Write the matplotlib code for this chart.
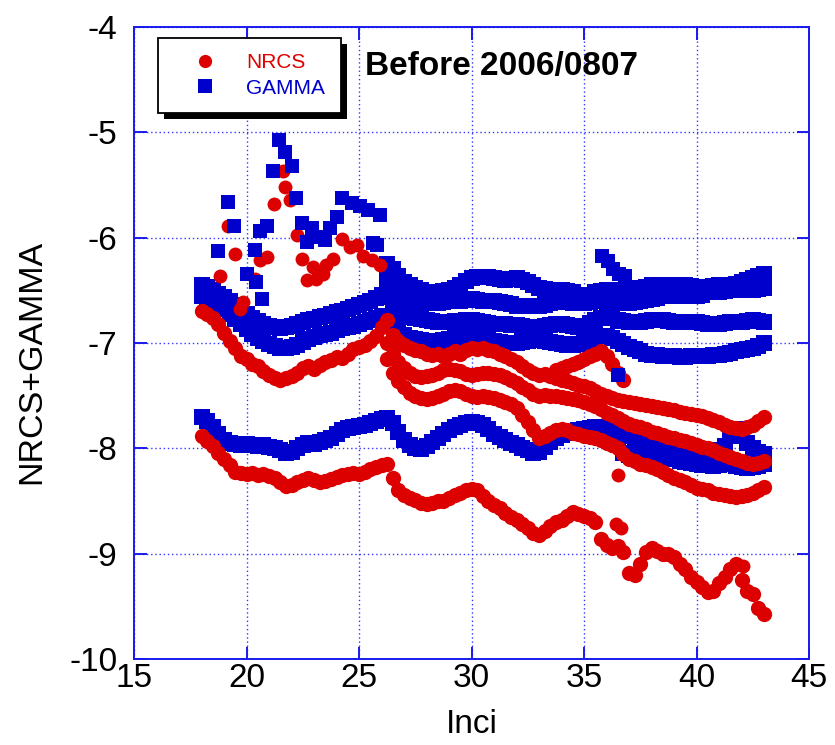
import matplotlib.pyplot as plt
from matplotlib.lines import Line2D
from matplotlib.patches import Rectangle

plt.rcParams['font.family'] = ['Liberation Sans', 'DejaVu Sans']
plt.rcParams['axes.unicode_minus'] = False

RED = '#dd0000'
BLUE = '#0000cc'
FRAME = '#1a1aee'

# incidence angle samples along the swath (deg)
inci = [
    18.0, 18.25, 18.5, 18.75, 19.0, 19.25, 19.5, 19.75,
    20.0, 20.25, 20.5, 20.75, 21.0, 21.25, 21.5, 21.75,
    22.0, 22.25, 22.5, 22.75, 23.0, 23.25, 23.5, 23.75,
    24.0, 24.25, 24.5, 24.75, 25.0, 25.25, 25.5, 25.75,
    26.0, 26.25, 26.5, 26.75, 27.0, 27.25, 27.5, 27.75,
    28.0, 28.25, 28.5, 28.75, 29.0, 29.25, 29.5, 29.75,
    30.0, 30.25, 30.5, 30.75, 31.0, 31.25, 31.5, 31.75,
    32.0, 32.25, 32.5, 32.75, 33.0, 33.25, 33.5, 33.75,
    34.0, 34.25, 34.5, 34.75, 35.0, 35.25, 35.5, 35.75,
    36.0, 36.25, 36.5, 36.75, 37.0, 37.25, 37.5, 37.75,
    38.0, 38.25, 38.5, 38.75, 39.0, 39.25, 39.5, 39.75,
    40.0, 40.25, 40.5, 40.75, 41.0, 41.25, 41.5, 41.75,
    42.0, 42.25, 42.5, 42.75, 43.0,
]

# ---- NRCS tracks ----
nrcs_1 = [
    -6.70, -6.72, -6.76, -6.82,
    -6.90, -6.98, -7.05, -7.12,
    -7.15, -7.20, -7.22, -7.27,
    -7.30, -7.33, -7.35, -7.33,
    -7.31, -7.28, -7.24, -7.22,
    -7.25, -7.21, -7.18, -7.16,
    -7.13, -7.14, -7.10, -7.06,
    -7.04, -7.02, -6.98, -6.93,
    -6.85, -6.78, -6.92, -6.98,
    -7.02, -7.05, -7.07, -7.08,
    -7.10, -7.11, -7.10, -7.12,
    -7.10, -7.08, -7.10, -7.07,
    -7.05, -7.06, -7.05, -7.07,
    -7.08, -7.10, -7.12, -7.15,
    -7.18, -7.22, -7.26, -7.28,
    -7.30, -7.29, -7.31, -7.33,
    -7.35, -7.36, -7.38, -7.40,
    -7.41, -7.43, -7.46, -7.48,
    -7.50, -7.52, -7.54, -7.55,
    -7.56, -7.57, -7.58, -7.59,
    -7.60, -7.61, -7.62, -7.63,
    -7.64, -7.65, -7.66, -7.67,
    -7.68, -7.69, -7.71, -7.73,
    -7.75, -7.78, -7.80, -7.81,
    -7.82, -7.80, -7.78, -7.74,
    -7.70,
]
nrcs_4 = [
    -7.88, -7.93, -7.98, -8.04,
    -8.10, -8.16, -8.22, -8.23,
    -8.24, -8.23, -8.25, -8.24,
    -8.26, -8.28, -8.32, -8.36,
    -8.35, -8.32, -8.30, -8.28,
    -8.30, -8.32, -8.31, -8.29,
    -8.27, -8.25, -8.24, -8.23,
    -8.24, -8.22, -8.20, -8.18,
    -8.16, -8.15, -8.28, -8.40,
    -8.44, -8.47, -8.49, -8.52,
    -8.53, -8.52, -8.50, -8.50,
    -8.47, -8.44, -8.42, -8.40,
    -8.39, -8.40, -8.45, -8.50,
    -8.54, -8.57, -8.61, -8.65,
    -8.68, -8.72, -8.76, -8.80,
    -8.82, -8.78, -8.74, -8.70,
    -8.68, -8.64, -8.60, -8.62,
    -8.64, -8.66, -8.70, -8.86,
    -8.92, -8.95, -8.93, -8.98,
    -9.18, -9.20, -9.10, -8.98,
    -8.95, -8.97, -9.00, -9.00,
    -9.03, -9.10, -9.15, -9.22,
    -9.27, -9.32, -9.36, -9.35,
    -9.28, -9.22, -9.15, -9.10,
    -9.25, -9.35, -9.38, -9.52,
    -9.57,
]
# these start at 26.25 deg
nrcs_2 = [
    -7.00, -7.10, -7.18,
    -7.24, -7.28, -7.31, -7.32,
    -7.31, -7.30, -7.28, -7.26,
    -7.25, -7.26, -7.27, -7.29,
    -7.30, -7.29, -7.28, -7.28,
    -7.29, -7.30, -7.32, -7.35,
    -7.38, -7.42, -7.45, -7.48,
    -7.50, -7.49, -7.50, -7.50,
    -7.51, -7.52, -7.53, -7.54,
    -7.56, -7.58, -7.60, -7.63,
    -7.66, -7.68, -7.71, -7.74,
    -7.77, -7.79, -7.80, -7.82,
    -7.84, -7.85, -7.87, -7.89,
    -7.90, -7.92, -7.93, -7.95,
    -7.97, -7.99, -8.00, -8.02,
    -8.04, -8.06, -8.08, -8.10,
    -8.12, -8.14, -8.15, -8.14,
    -8.12,
]
nrcs_3 = [
    -7.15, -7.28, -7.36,
    -7.42, -7.47, -7.50, -7.52,
    -7.53, -7.52, -7.50, -7.48,
    -7.46, -7.45, -7.46, -7.48,
    -7.50, -7.51, -7.50, -7.51,
    -7.52, -7.54, -7.56, -7.58,
    -7.62, -7.68, -7.75, -7.83,
    -7.90, -7.88, -7.85, -7.83,
    -7.82, -7.83, -7.85, -7.86,
    -7.88, -7.89, -7.90, -7.92,
    -7.95, -7.97, -8.00, -8.05,
    -8.10, -8.12, -8.15, -8.16,
    -8.18, -8.20, -8.22, -8.25,
    -8.28, -8.30, -8.32, -8.35,
    -8.38, -8.39, -8.40, -8.42,
    -8.43, -8.44, -8.45, -8.46,
    -8.45, -8.44, -8.42, -8.40,
    -8.37,
]
# short segment 33.75 - 36.75 deg
nrcs_5 = [-7.26, -7.24, -7.22, -7.20, -7.18, -7.15, -7.12,
          -7.10, -7.08, -7.12, -7.20, -7.28, -7.35]

nrcs_peak_inci = [18.82, 19.19, 19.49, 19.70, 19.84, 20.37, 20.60, 20.90,
                  21.22, 21.63, 21.71, 21.93, 22.23, 22.45, 22.67, 22.97,
                  23.11, 23.41, 23.55, 23.86, 24.23, 24.60, 24.90, 25.19,
                  25.56, 25.93, 36.40, 36.65, 42.05, 36.50]
nrcs_peak = [-6.36, -5.89, -6.15, -6.68, -6.61, -6.39, -6.21, -6.18,
             -5.68, -5.37, -5.52, -5.64, -5.97, -6.20, -6.40, -6.28,
             -6.39, -6.34, -6.26, -6.20, -6.01, -6.09, -6.07, -6.17,
             -6.21, -6.26, -8.72, -8.76, -9.12, -8.25]

# ---- GAMMA tracks ----
gamma_1 = [
    -6.55, -6.57, -6.60, -6.64,
    -6.68, -6.72, -6.77, -6.82,
    -6.87, -6.91, -6.95, -6.98,
    -7.01, -7.03, -7.05, -7.05,
    -7.04, -7.02, -6.99, -6.96,
    -6.94, -6.92, -6.91, -6.90,
    -6.88, -6.86, -6.85, -6.84,
    -6.82, -6.80, -6.78, -6.76,
    -6.74, -6.76, -6.82, -6.88,
    -6.92, -6.95, -6.96, -6.97,
    -6.98, -6.98, -6.98, -6.97,
    -6.96, -6.95, -6.94, -6.93,
    -6.92, -6.93, -6.95, -6.97,
    -6.98, -6.99, -7.00, -7.00,
    -7.00, -6.99, -6.98, -6.97,
    -6.97, -6.98, -6.99, -7.00,
    -7.01, -7.02, -7.02, -7.01,
    -6.99, -6.97, -6.95, -6.93,
    -6.93, -6.95, -6.98, -7.01,
    -7.04, -7.06, -7.08, -7.10,
    -7.11, -7.11, -7.12, -7.12,
    -7.12, -7.13, -7.13, -7.12,
    -7.12, -7.12, -7.12, -7.11,
    -7.11, -7.10, -7.09, -7.08,
    -7.07, -7.06, -7.05, -7.03,
    -7.00,
]
gamma_2 = [
    -6.45, -6.47, -6.50, -6.53,
    -6.56, -6.60, -6.64, -6.68,
    -6.72, -6.76, -6.79, -6.82,
    -6.84, -6.85, -6.86, -6.85,
    -6.84, -6.82, -6.80, -6.78,
    -6.77, -6.75, -6.74, -6.72,
    -6.71, -6.70, -6.68, -6.66,
    -6.64, -6.62, -6.60, -6.57,
    -6.54, -6.56, -6.62, -6.68,
    -6.72, -6.75, -6.76, -6.77,
    -6.78, -6.79, -6.80, -6.80,
    -6.80, -6.79, -6.79, -6.78,
    -6.78, -6.79, -6.80, -6.81,
    -6.82, -6.82, -6.82, -6.83,
    -6.83, -6.84, -6.85, -6.85,
    -6.85, -6.84, -6.83, -6.82,
    -6.82, -6.83, -6.84, -6.85,
    -6.84, -6.81, -6.78, -6.76,
    -6.75, -6.76, -6.78, -6.79,
    -6.80, -6.80, -6.80, -6.79,
    -6.78, -6.78, -6.78, -6.79,
    -6.80, -6.80, -6.80, -6.80,
    -6.80, -6.81, -6.82, -6.82,
    -6.82, -6.81, -6.80, -6.80,
    -6.80, -6.79, -6.78, -6.79,
    -6.80,
]
gamma_4 = [
    -7.70, -7.74, -7.80, -7.86,
    -7.92, -7.95, -7.96, -7.97,
    -7.96, -7.97, -7.98, -7.97,
    -7.99, -8.00, -8.02, -8.04,
    -8.03, -8.00, -7.97, -7.95,
    -7.96, -7.94, -7.92, -7.90,
    -7.86, -7.83, -7.81, -7.80,
    -7.79, -7.78, -7.76, -7.74,
    -7.72, -7.71, -7.76, -7.84,
    -7.92, -7.97, -8.00, -8.01,
    -7.98, -7.94, -7.90, -7.86,
    -7.83, -7.80, -7.78, -7.76,
    -7.75, -7.76, -7.78, -7.82,
    -7.86, -7.89, -7.92, -7.95,
    -7.97, -8.00, -8.02, -8.04,
    -8.03, -7.99, -7.94, -7.90,
    -7.87, -7.85, -7.84, -7.83,
    -7.82, -7.81, -7.80, -7.80,
    -7.82, -7.90, -7.97, -8.04,
    -8.06, -8.07, -8.05, -8.03,
    -8.04, -8.06, -8.08, -8.09,
    -8.10, -8.12, -8.13, -8.14,
    -8.15, -8.16, -8.16, -8.17,
    -8.16, -8.14, -8.15, -8.17,
    -8.18, -8.19, -8.18, -8.17,
    -8.15,
]
# these start at 26.25 deg
gamma_3 = [
    -6.25, -6.30, -6.36,
    -6.42, -6.45, -6.48, -6.50,
    -6.52, -6.52, -6.52, -6.51,
    -6.50, -6.48, -6.45, -6.41,
    -6.38, -6.37, -6.37, -6.37,
    -6.38, -6.39, -6.40, -6.39,
    -6.38, -6.40, -6.42, -6.45,
    -6.48, -6.49, -6.50, -6.50,
    -6.50, -6.51, -6.52, -6.54,
    -6.55, -6.54, -6.52, -6.51,
    -6.50, -6.50, -6.50, -6.50,
    -6.50, -6.49, -6.48, -6.47,
    -6.45, -6.45, -6.45, -6.45,
    -6.45, -6.45, -6.45, -6.46,
    -6.47, -6.47, -6.47, -6.46,
    -6.45, -6.45, -6.45, -6.44,
    -6.42, -6.40, -6.38, -6.36,
    -6.34,
]
gamma_5 = [
    -6.40, -6.45, -6.50,
    -6.55, -6.58, -6.60, -6.61,
    -6.62, -6.62, -6.62, -6.61,
    -6.60, -6.60, -6.60, -6.59,
    -6.58, -6.59, -6.60, -6.60,
    -6.60, -6.61, -6.62, -6.63,
    -6.65, -6.65, -6.65, -6.65,
    -6.65, -6.64, -6.62, -6.61,
    -6.60, -6.61, -6.62, -6.62,
    -6.62, -6.61, -6.60, -6.60,
    -6.60, -6.61, -6.62, -6.62,
    -6.62, -6.61, -6.60, -6.59,
    -6.58, -6.57, -6.55, -6.55,
    -6.55, -6.55, -6.55, -6.55,
    -6.55, -6.54, -6.52, -6.52,
    -6.52, -6.51, -6.50, -6.50,
    -6.50, -6.50, -6.50, -6.49,
    -6.48,
]
# starts at 36.5 deg
gamma_6 = [
    -7.78, -7.82,
    -7.88, -7.93, -7.95, -7.93,
    -7.92, -7.93, -7.95, -7.96,
    -7.97, -7.98, -8.00, -8.03,
    -8.05, -8.06, -8.05, -8.04,
    -8.02, -7.98, -7.88, -7.82,
    -7.88, -7.95, -8.00, -8.03,
    -8.05,
]

gamma_peak_inci = [18.75, 19.19, 19.44, 20.00, 20.37, 20.44, 20.60, 20.70,
                   20.90, 21.19, 21.46, 21.71, 22.01, 22.19, 22.45, 22.67,
                   22.90, 23.18, 23.49, 23.71, 24.00, 24.23, 24.68, 25.05,
                   25.41, 25.64, 25.79, 25.93]
gamma_peak = [-6.13, -5.66, -5.89, -6.34, -6.12, -6.42, -5.94, -6.58,
              -5.89, -5.37, -5.07, -5.19, -5.32, -5.62, -5.86, -6.04,
              -5.91, -5.99, -6.02, -5.91, -5.80, -5.62, -5.67, -5.70,
              -5.74, -6.05, -6.07, -5.78]
gamma_spike_inci = [35.80, 36.05, 36.30, 36.55, 36.80, 36.50]
gamma_spike = [-6.17, -6.22, -6.30, -6.34, -6.36, -7.30]

nrcs_tracks = [(inci, nrcs_1), (inci, nrcs_4),
               (inci[-len(nrcs_2):], nrcs_2), (inci[-len(nrcs_3):], nrcs_3),
               (inci[63:63 + len(nrcs_5)], nrcs_5)]
gamma_tracks = [(inci, gamma_1), (inci, gamma_2), (inci, gamma_4),
                (inci[-len(gamma_3):], gamma_3), (inci[-len(gamma_5):], gamma_5),
                (inci[-len(gamma_6):], gamma_6)]

fig = plt.figure(figsize=(8.35, 7.45), dpi=100)
ax = fig.add_axes([0.1605, 0.1154, 0.8084, 0.8483])

ms_track = 11.0
ms_pt = 10.0
for x, y in gamma_tracks:
    ax.plot(x, y, linestyle='none', marker='s', ms=ms_track, mew=0,
            color=BLUE, zorder=2)
for x, y in nrcs_tracks:
    ax.plot(x, y, linestyle='none', marker='o', ms=ms_track, mew=0,
            color=RED, zorder=3)
ax.plot(nrcs_peak_inci, nrcs_peak, linestyle='none', marker='o', ms=ms_pt,
        mew=0, color=RED, zorder=3)
ax.plot(gamma_peak_inci, gamma_peak, linestyle='none', marker='s', ms=ms_pt,
        mew=0, color=BLUE, zorder=4)
ax.plot(gamma_spike_inci, gamma_spike, linestyle='none', marker='s', ms=ms_pt,
        mew=0, color=BLUE, zorder=4)

ax.set_xlim(15, 45)
ax.set_ylim(-10, -4)
ax.set_xticks([15, 20, 25, 30, 35, 40, 45])
ax.set_yticks([-10, -9, -8, -7, -6, -5, -4])

ax.set_axisbelow(True)
ax.grid(True, color='#3535ff', linestyle=(0, (1, 2)), linewidth=1.0)
for sp in ax.spines.values():
    sp.set_color(FRAME)
    sp.set_linewidth(1.4)
ax.tick_params(axis='both', direction='in', length=9, width=1.4, color=FRAME,
               top=True, right=True, labelsize=24, labelcolor='black')
ax.tick_params(axis='x', pad=3)
ax.tick_params(axis='y', pad=12)

ax.set_xlabel('Inci', fontsize=24, labelpad=11)
ax.set_ylabel('NRCS+GAMMA', fontsize=24.5)
ax.yaxis.set_label_coords(-0.128, 0.47)

ax.text(0.544, 0.937, 'Before 2006/0807', transform=ax.transAxes,
        ha='center', va='center', fontsize=24, fontweight='bold')

handles = [
    Line2D([], [], linestyle='none', marker='o', ms=9.5, mew=0, color=RED),
    Line2D([], [], linestyle='none', marker='s', ms=9.5, mew=0, color=BLUE),
]
leg = ax.legend(handles, ['NRCS', 'GAMMA'], loc='upper left',
                bbox_to_anchor=(0.035, 0.983), borderaxespad=0,
                fontsize=15, frameon=True, fancybox=False, shadow=False,
                handlelength=3.0, handletextpad=0.5, borderpad=0.75,
                labelspacing=0.3)
leg.get_frame().set_edgecolor('black')
leg.get_frame().set_linewidth(1.3)
leg.get_frame().set_alpha(1)
for txt, c in zip(leg.get_texts(), [RED, BLUE]):
    txt.set_color(c)

# solid black drop shadow under the legend box
fig.canvas.draw()
bb = leg.get_window_extent().transformed(ax.transAxes.inverted())
dx = 6 / (ax.bbox.width)
dy = 6 / (ax.bbox.height)
ax.add_patch(Rectangle((bb.x0 + dx, bb.y0 - dy), bb.width, bb.height,
                       transform=ax.transAxes, facecolor='black',
                       edgecolor='none', zorder=leg.get_zorder() - 0.1,
                       clip_on=False))

fig.savefig('out.png', dpi=100)
